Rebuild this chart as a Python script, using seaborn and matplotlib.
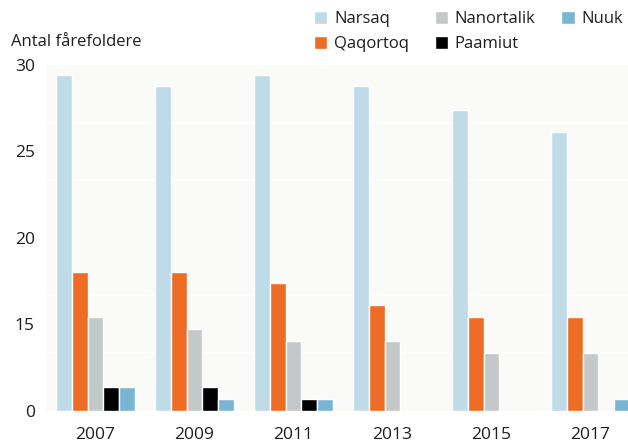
import numpy as np
import pandas as pd
import matplotlib
matplotlib.use('Agg')
import matplotlib.pyplot as plt
from matplotlib.ticker import FixedLocator
import seaborn as sns

years = ['2007', '2009', '2011', '2013', '2015', '2017']
towns = ['Narsaq', 'Qaqortoq', 'Nanortalik', 'Paamiut', 'Nuuk']
narsaq = [29.4, 28.8, 29.4, 28.8, 27.4, 26.1]
qaqortoq = [18.0, 18.0, 17.4, 16.1, 15.4, 15.4]
nanortalik = [15.4, 14.2, 12.1, 12.1, 10.1, 10.1]
paamiut = [4.2, 4.2, 2.1, np.nan, np.nan, np.nan]
nuuk = [4.2, 2.1, 2.1, np.nan, np.nan, 2.1]
colors = ['#bfdbe8', '#ed6d26', '#c5c8c9', '#000000', '#7ab6d3']

values = [narsaq, qaqortoq, nanortalik, paamiut, nuuk]
df = pd.DataFrame({
    'year': years * len(towns),
    'town': [t for t in towns for _ in years],
    'count': [v for series in values for v in series],
})

sns.set_style('whitegrid', {'axes.facecolor': '#fafaf8', 'grid.color': 'white',
                            'axes.edgecolor': '#fafaf8'})
plt.rcParams['font.family'] = ['Open Sans', 'DejaVu Sans']

fig = plt.figure(figsize=(6.28, 4.43), dpi=100)
ax = fig.add_axes([46 / 628, 1 - 410.7 / 443, 594 / 628, 345.7 / 443])

sns.barplot(data=df, x='year', y='count', hue='town', hue_order=towns,
            palette=colors, saturation=1, width=0.8, edgecolor='white',
            linewidth=1, ax=ax, legend=True)


# axis is compressed below 15 in the original
def fwd(v):
    v = np.asarray(v, dtype=float)
    return np.where(v < 15, v / 3, v - 10)


def inv(d):
    d = np.asarray(d, dtype=float)
    return np.where(d < 5, d * 3, d + 10)


ax.set_yscale('function', functions=(fwd, inv))
ax.set_ylim(0, 30)
ax.set_xlim(-0.5, 5.5)
ax.yaxis.set_major_locator(FixedLocator([0, 15, 20, 25, 30]))
ax.set_yticklabels(['0', '15', '20', '25', '30'])
ax.yaxis.set_minor_locator(FixedLocator([10, 50 / 3, 20, 70 / 3, 80 / 3]))
ax.grid(False, which='major')
ax.grid(True, which='minor', axis='y', color='white', linewidth=1.2)
ax.grid(False, axis='x')
ax.tick_params(axis='y', which='both', length=0, pad=8, labelsize=12.5, labelcolor='#1e1e1e')
ax.tick_params(axis='x', length=0, pad=12, labelsize=12.5, labelcolor='#1e1e1e')
ax.set_xlabel('')
ax.set_ylabel('')
for s in ax.spines.values():
    s.set_visible(False)

ax.legend_.remove()
handles, labels = ax.get_legend_handles_labels()
fig.legend(handles[:5], labels[:5], ncol=3, loc='upper left',
           bbox_to_anchor=(314 / 628, 1 - 11 / 443), frameon=False,
           fontsize=12, handlelength=0.8, handleheight=0.8,
           handletextpad=0.4, columnspacing=1.55, labelspacing=0.55,
           borderaxespad=0, borderpad=0, labelcolor='#1e1e1e')

fig.text(11 / 628, 1 - 42 / 443, 'Antal fårefoldere', fontsize=12,
         color='#1e1e1e', va='center', ha='left')

fig.savefig('out.png', dpi=100)
